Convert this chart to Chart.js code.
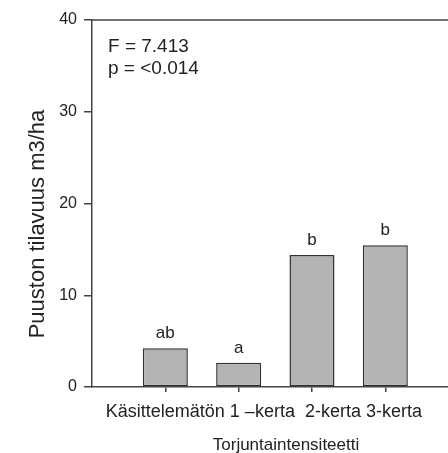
<!DOCTYPE html>
<html>
<head>
<meta charset="utf-8">
<script src="https://cdn.jsdelivr.net/npm/chart.js@4/dist/chart.umd.min.js"></script>
<style>
  html, body { margin: 0; padding: 0; background: #ffffff; overflow: hidden; }
  canvas { display: block; }
</style>
</head>
<body>
<canvas id="c" width="448" height="453"></canvas>
<script>
// ---- data ----
const categories = ['Käsittelemätön', '1 –kerta', '2-kerta', '3-kerta'];
const values = [4.22, 2.65, 14.4, 15.44];
const groupLetters = ['ab', 'a', 'b', 'b'];
const yTicks = [0, 10, 20, 30, 40];
const statLines = ['F = 7.413', 'p = <0.014'];
const xTitle = 'Torjuntaintensiteetti';
const yTitle = 'Puuston tilavuus m3/ha';

const FONT = '"Liberation Sans", Arial, sans-serif';
const TEXT = '#222222';
const AXIS = '#444444';

const extras = {
  id: 'extras',
  afterDraw(chart) {
    const ctx = chart.ctx;
    const area = chart.chartArea;
    ctx.save();
    // top frame line
    ctx.strokeStyle = AXIS;
    ctx.lineWidth = 1.5;
    ctx.beginPath();
    ctx.moveTo(area.left, area.top);
    ctx.lineTo(chart.width, area.top);
    ctx.stroke();

    ctx.fillStyle = TEXT;
    // group letters above bars
    ctx.font = '17px ' + FONT;
    ctx.textAlign = 'center';
    ctx.textBaseline = 'alphabetic';
    const meta = chart.getDatasetMeta(0);
    meta.data.forEach((bar, i) => {
      ctx.fillText(groupLetters[i], bar.x, bar.y - 10);
    });

    // category labels written as one running line under the axis (as in the original)
    ctx.font = '18px ' + FONT;
    ctx.textAlign = 'left';
    const line = categories[0] + ' ' + categories[1] + '  ' + categories[2] + ' ' + categories[3];
    const xs = chart.scales.x;
    const firstCenter = xs.getPixelForValue(1);
    const firstW = ctx.measureText(categories[0]).width;
    ctx.fillText(line, firstCenter - firstW / 2, area.bottom + 30);

    // statistics text
    ctx.font = '19px ' + FONT;
    ctx.textAlign = 'left';
    statLines.forEach((t, i) => ctx.fillText(t, area.left + 16, area.top + 32 + i * 22));

    // x title
    ctx.font = '17px ' + FONT;
    ctx.textAlign = 'center';
    ctx.fillText(xTitle, 286, 450);

    // y title
    ctx.font = '22px ' + FONT;
    ctx.translate(44, 224);
    ctx.rotate(-Math.PI / 2);
    ctx.textAlign = 'center';
    ctx.fillText(yTitle, 0, 0);
    ctx.restore();
  }
};

new Chart(document.getElementById('c'), {
  type: 'bar',
  data: {
    datasets: [{
      data: values.map((v, i) => ({ x: i + 1, y: v })),
      backgroundColor: '#b3b3b3',
      borderColor: '#333333',
      borderWidth: 1.5,
      borderSkipped: false,
      barPercentage: 0.614,
      categoryPercentage: 1
    }]
  },
  options: {
    responsive: false,
    animation: false,
    layout: { padding: { top: 20, right: 0, left: 0, bottom: 0 } },
    plugins: { legend: { display: false }, tooltip: { enabled: false } },
    scales: {
      x: {
        type: 'linear',
        min: 0,
        max: 4.855,
        offset: false,
        grid: { display: true, offset: false, drawOnChartArea: false, drawTicks: true, tickLength: 5, color: AXIS, lineWidth: 1.5 },
        border: { display: true, color: AXIS, width: 1.5 },
        afterBuildTicks(scale) { scale.ticks = categories.map((_, i) => ({ value: i + 1 })); },
        afterFit(scale) { scale.height = 66; },
        ticks: {
          display: false,
          autoSkip: false,
          callback: (v) => categories[v - 1] ?? ''
        }
      },
      y: {
        min: 0,
        max: 40,
        afterBuildTicks(scale) { scale.ticks = yTicks.map(v => ({ value: v })); },
        afterFit(scale) { scale.width = 92; },
        grid: { display: true, drawOnChartArea: false, drawTicks: true, tickLength: 8, color: AXIS, lineWidth: 1.5 },
        border: { display: true, color: AXIS, width: 1.5 },
        ticks: {
          padding: 7,
          color: TEXT,
          font: { family: FONT, size: 16 }
        }
      }
    }
  },
  plugins: [extras]
});
</script>
</body>
</html>
